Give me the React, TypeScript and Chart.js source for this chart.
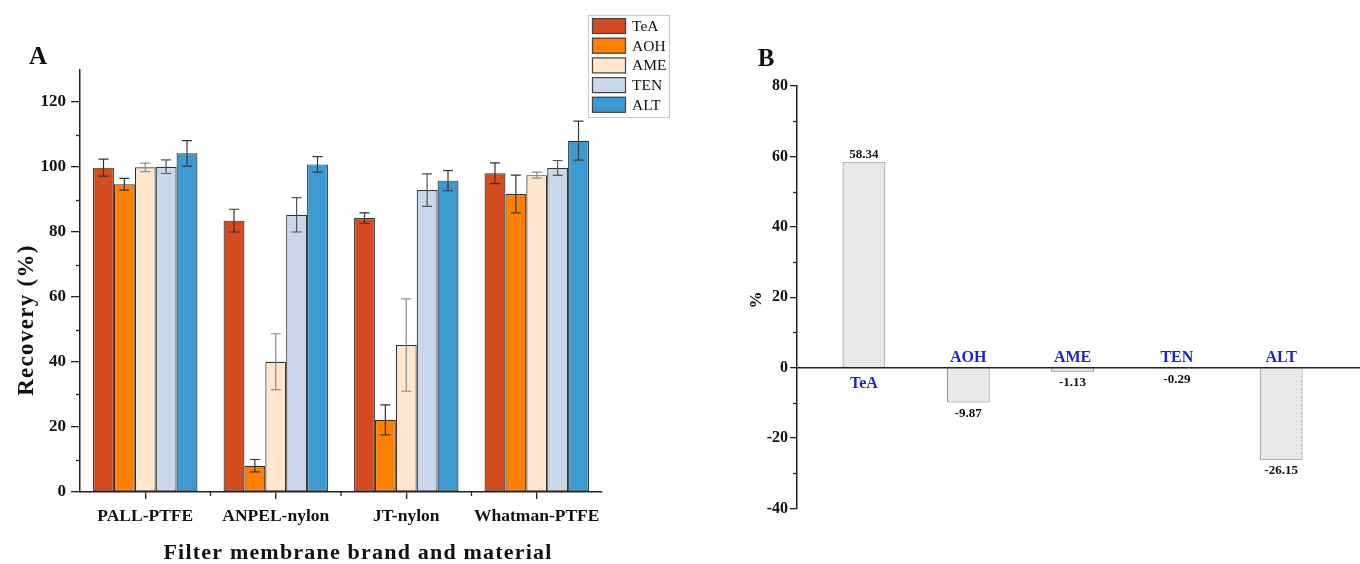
import React, { useEffect, useRef } from 'react';
import { Chart, registerables } from 'chart.js';

Chart.register(...registerables);

const FONT = '"Liberation Serif", "Times New Roman", Times, serif';

// ---------- Panel A data ----------
const categoriesA = ['PALL-PTFE', 'ANPEL-nylon', 'JT-nylon', 'Whatman-PTFE'];
const seriesNames = ['TeA', 'AOH', 'AME', 'TEN', 'ALT'];
const seriesColors = ['#D34B1F', '#FF8000', '#FFE6CD', '#C8D7EA', '#3D9AD1'];
const errorColors = ['#333333', '#333333', '#8a8a8a', '#555555', '#3a3a3a'];

const teaValues = [99.8, 83.5, 84.3, 98.1];
const aohValues = [94.7, 8.1, 22.2, 91.7];
const ameValues = [99.9, 40.1, 45.2, 97.5];
const tenValues = [100.1, 85.3, 92.9, 99.7];
const altValues = [104.2, 100.8, 95.8, 108.1];

const teaErrors = [2.6, 3.5, 1.6, 3.2];
const aohErrors = [1.8, 1.9, 4.6, 5.8];
const ameErrors = [1.3, 8.6, 14.2, 0.9];
const tenErrors = [2.1, 5.3, 5.0, 2.3];
const altErrors = [3.9, 2.4, 3.1, 6.0];

const yTicksA = [0, 20, 40, 60, 80, 100, 120];
const yMinorA = [10, 30, 50, 70, 90, 110];

// ---------- Panel B data ----------
const categoriesB = ['TeA', 'AOH', 'AME', 'TEN', 'ALT'];
const valuesB = [58.34, -9.87, -1.13, -0.29, -26.15];
const yTicksB = [-40, -20, 0, 20, 40, 60, 80];
const yMinorB = [-30, -10, 10, 30, 50, 70];

const allValues = [teaValues, aohValues, ameValues, tenValues, altValues];
const allErrors = [teaErrors, aohErrors, ameErrors, tenErrors, altErrors];

const W = 680;
const H = 564;

function ChartA() {
  const ref = useRef<HTMLCanvasElement | null>(null);
  useEffect(() => {
    const canvas = ref.current;
    if (!canvas) return;
    const decor = {
      id: 'decorA',
      afterDatasetsDraw(chart: any) {
        const ctx = chart.ctx;
        const ys = chart.scales.y;
        ctx.save();
        allValues.forEach((vals, i) => {
          const meta = chart.getDatasetMeta(i);
          ctx.strokeStyle = errorColors[i];
          ctx.lineWidth = 1.2;
          meta.data.forEach((bar: any, j: number) => {
            const v = vals[j];
            const e = allErrors[i][j];
            const yt = ys.getPixelForValue(v + e);
            const yb = ys.getPixelForValue(v - e);
            const x = bar.x;
            ctx.beginPath();
            ctx.moveTo(x, yt);
            ctx.lineTo(x, yb);
            ctx.moveTo(x - 5, yt);
            ctx.lineTo(x + 5, yt);
            ctx.moveTo(x - 5, yb);
            ctx.lineTo(x + 5, yb);
            ctx.stroke();
          });
        });
        ctx.restore();
      },
      afterDraw(chart: any) {
        const ctx = chart.ctx;
        const ys = chart.scales.y;
        const xs = chart.scales.x;
        const area = chart.chartArea;
        ctx.save();
        ctx.strokeStyle = '#222';
        ctx.lineWidth = 1.3;
        yMinorA.forEach((v) => {
          const y = Math.round(ys.getPixelForValue(v)) + 0.5;
          ctx.beginPath();
          ctx.moveTo(area.left - 4, y);
          ctx.lineTo(area.left, y);
          ctx.stroke();
        });
        for (let k = 0; k < categoriesA.length - 1; k++) {
          const x = (xs.getPixelForValue(k) + xs.getPixelForValue(k + 1)) / 2;
          ctx.beginPath();
          ctx.moveTo(x, area.bottom);
          ctx.lineTo(x, area.bottom + 4);
          ctx.stroke();
        }
        ctx.fillStyle = '#111';
        ctx.textAlign = 'center';
        ctx.textBaseline = 'middle';
        ctx.font = `bold 22px ${FONT}`;
        (ctx as any).letterSpacing = '1.2px';
        ctx.fillText('Filter membrane brand and material', 358, 553);
        ctx.save();
        ctx.translate(27, 320);
        ctx.rotate(-Math.PI / 2);
        ctx.font = `bold 23px ${FONT}`;
        (ctx as any).letterSpacing = '1.3px';
        ctx.fillText('Recovery (%)', 0, 0);
        ctx.restore();
        (ctx as any).letterSpacing = '0px';
        ctx.font = `bold 25px ${FONT}`;
        ctx.fillText('A', 38, 58);
        const lx = 588, ly = 15, lw = 81, lh = 102;
        ctx.strokeStyle = '#c8c8c8';
        ctx.lineWidth = 1;
        ctx.strokeRect(lx + 0.5, ly + 0.5, lw, lh);
        ctx.font = `15.5px ${FONT}`;
        ctx.textAlign = 'left';
        seriesNames.forEach((name, i) => {
          const cy = 26 + i * 19.7;
          ctx.fillStyle = seriesColors[i];
          ctx.fillRect(592, cy - 8, 34, 16);
          ctx.strokeStyle = '#444';
          ctx.lineWidth = 1.2;
          ctx.strokeRect(592.5, cy - 7.5, 33, 15);
          ctx.fillStyle = '#111';
          ctx.fillText(name, 632, cy + 1);
        });
        ctx.restore();
      },
    };

    const chart = new Chart(canvas, {
      type: 'bar',
      data: {
        labels: categoriesA,
        datasets: seriesNames.map((name, i) => ({
          label: name,
          data: allValues[i],
          backgroundColor: seriesColors[i],
          borderColor: '#333',
          borderWidth: 1.2,
          borderSkipped: false,
          categoryPercentage: 0.8,
          barPercentage: 1,
        })),
      },
      options: {
        responsive: false,
        animation: false,
        layout: { padding: { left: 0, right: 78, top: 69.5, bottom: 0 } },
        plugins: { legend: { display: false }, tooltip: { enabled: false } },
        scales: {
          x: {
            afterFit: (s: any) => { s.height = 72; },
            grid: { display: true, drawOnChartArea: false, offset: false, tickLength: 7, color: '#222', lineWidth: 1.3 },
            border: { display: true, color: '#222', width: 1.5 },
            ticks: {
              color: '#111',
              padding: 7,
              autoSkip: false,
              maxRotation: 0,
              minRotation: 0,
              font: { family: FONT, size: 17.5, weight: 'bold' },
            },
          },
          y: {
            min: 0,
            max: 130,
            afterFit: (s: any) => { s.width = 80; },
            afterBuildTicks: (s: any) => { s.ticks = yTicksA.map((v) => ({ value: v })); },
            grid: { display: true, drawOnChartArea: false, tickLength: 9, color: '#222', lineWidth: 1.3 },
            border: { display: true, color: '#222', width: 1.5 },
            ticks: { color: '#111', padding: 5, font: { family: FONT, size: 17, weight: 'bold' } },
          },
        },
      },
      plugins: [decor],
    } as any);
    return () => chart.destroy();
  }, []);
  return <canvas ref={ref} width={W} height={H} style={{ width: W, height: H, display: 'block' }} />;
}

function ChartB() {
  const ref = useRef<HTMLCanvasElement | null>(null);
  useEffect(() => {
    const canvas = ref.current;
    if (!canvas) return;
    const pc = document.createElement('canvas');
    pc.width = 4;
    pc.height = 4;
    const p = pc.getContext('2d')!;
    p.fillStyle = '#ececec';
    p.fillRect(0, 0, 4, 4);
    p.fillStyle = '#d0d0d0';
    p.fillRect(0, 0, 1, 1);
    p.fillRect(2, 2, 1, 1);
    const pattern = canvas.getContext('2d')!.createPattern(pc, 'repeat');

    const decor = {
      id: 'decorB',
      afterDraw(chart: any) {
        const ctx = chart.ctx;
        const ys = chart.scales.y;
        const area = chart.chartArea;
        ctx.save();
        ctx.strokeStyle = '#222';
        ctx.lineWidth = 1.3;
        yMinorB.forEach((v) => {
          const y = Math.round(ys.getPixelForValue(v)) + 0.5;
          ctx.beginPath();
          ctx.moveTo(area.left - 4, y);
          ctx.lineTo(area.left, y);
          ctx.stroke();
        });
        const y0 = ys.getPixelForValue(0);
        const meta = chart.getDatasetMeta(0);
        ctx.textAlign = 'center';
        ctx.textBaseline = 'middle';
        meta.data.forEach((bar: any, i: number) => {
          const v = valuesB[i];
          const yv = ys.getPixelForValue(v);
          ctx.fillStyle = '#111';
          ctx.font = `bold 13px ${FONT}`;
          if (v >= 0) ctx.fillText(v.toFixed(2), bar.x, yv - 8);
          else ctx.fillText(v.toFixed(2), bar.x, yv + 11);
          ctx.fillStyle = '#1e1ed2';
          ctx.font = `bold 16px ${FONT}`;
          if (v >= 0) ctx.fillText(categoriesB[i], bar.x, y0 + 16);
          else ctx.fillText(categoriesB[i], bar.x, y0 - 10);
        });
        ctx.fillStyle = '#111';
        ctx.font = `bold 17px ${FONT}`;
        ctx.save();
        ctx.translate(77, 300);
        ctx.rotate(-Math.PI / 2);
        ctx.fillText('%', 0, 0);
        ctx.restore();
        ctx.font = `bold 25px ${FONT}`;
        ctx.fillText('B', 86, 60);
        ctx.restore();
      },
    };

    const chart = new Chart(canvas, {
      type: 'bar',
      data: {
        datasets: [
          {
            label: '%',
            data: valuesB.map((v, i) => ({ x: i, y: v })),
            backgroundColor: pattern as any,
            borderColor: '#7a7a7a',
            borderWidth: 1,
            categoryPercentage: 0.41,
            barPercentage: 1,
          },
        ],
      },
      options: {
        responsive: false,
        animation: false,
        layout: { padding: { left: 0, right: 0, top: 86, bottom: 55.5 } },
        plugins: { legend: { display: false }, tooltip: { enabled: false } },
        scales: {
          x: {
            type: 'linear',
            min: -0.642,
            max: 4.756,
            offset: false,
            position: { y: 0 },
            afterBuildTicks: (s: any) => { s.ticks = categoriesB.map((_, i) => ({ value: i })); },
            ticks: { display: false },
            grid: { display: true, offset: false, drawOnChartArea: false, drawTicks: false, color: 'rgba(0,0,0,0)' },
            border: { display: true, color: '#222', width: 1.5, z: 1 },
          },
          y: {
            min: -40,
            max: 80,
            afterFit: (s: any) => { s.width = 117; },
            afterBuildTicks: (s: any) => { s.ticks = yTicksB.map((v) => ({ value: v })); },
            grid: { display: true, drawOnChartArea: false, tickLength: 7, color: '#222', lineWidth: 1.3 },
            border: { display: true, color: '#222', width: 1.5 },
            ticks: { color: '#111', padding: 2, font: { family: FONT, size: 16, weight: 'bold' } },
          },
        },
      },
      plugins: [decor],
    } as any);
    return () => chart.destroy();
  }, []);
  return <canvas ref={ref} width={W} height={H} style={{ width: W, height: H, display: 'block' }} />;
}

export default function App() {
  return (
    <div style={{ position: 'fixed', left: 0, top: 0, width: 1360, height: 564, background: '#fff', overflow: 'hidden' }}>
      <div style={{ position: 'absolute', left: 0, top: 0 }}>
        <ChartA />
      </div>
      <div style={{ position: 'absolute', left: 680, top: 0 }}>
        <ChartB />
      </div>
    </div>
  );
}
